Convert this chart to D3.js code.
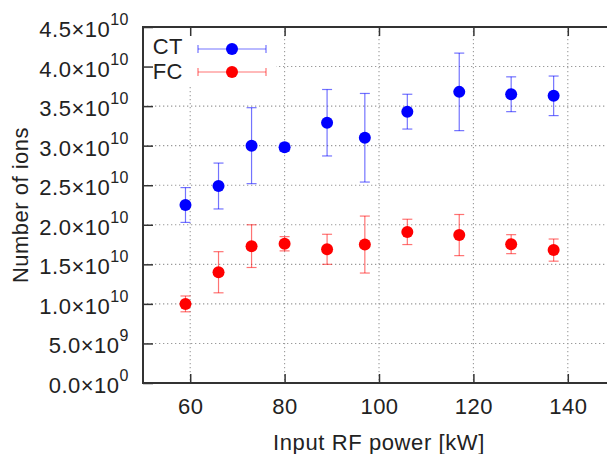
<!DOCTYPE html>
<html>
<head>
<meta charset="utf-8">
<script src="https://cdn.jsdelivr.net/npm/d3@7"></script>
<style>
  body { margin: 0; background: #fff; }
  svg text { font-family: "Liberation Sans", Arial, Helvetica, sans-serif; fill: #222; }
</style>
</head>
<body>
<div id="chart"></div>
<script>
// Ion count vs. input RF power, CT and FC measurements with error bars

const power = [59, 66, 73, 80, 89, 97, 106, 117, 128, 137];

const ctValues = [2.25e10, 2.49e10, 3.00e10, 2.98e10, 3.29e10, 3.10e10, 3.43e10, 3.68e10, 3.65e10, 3.63e10];
const ctErrors = [0.22e10, 0.29e10, 0.48e10, 0.05e10, 0.42e10, 0.56e10, 0.22e10, 0.49e10, 0.22e10, 0.25e10];

const fcValues = [1.00e10, 1.40e10, 1.73e10, 1.76e10, 1.69e10, 1.75e10, 1.91e10, 1.87e10, 1.755e10, 1.68e10];
const fcErrors = [0.10e10, 0.26e10, 0.27e10, 0.09e10, 0.19e10, 0.36e10, 0.16e10, 0.26e10, 0.12e10, 0.14e10];

const xTicks = [60, 80, 100, 120, 140];
const yTicks = [0, 0.5e10, 1.0e10, 1.5e10, 2.0e10, 2.5e10, 3.0e10, 3.5e10, 4.0e10, 4.5e10];
// mantissa / exponent pairs for the "a×10^b" labels
const yTickLabels = [
    ['0.0', '0'], ['5.0', '9'], ['1.0', '10'], ['1.5', '10'], ['2.0', '10'],
    ['2.5', '10'], ['3.0', '10'], ['3.5', '10'], ['4.0', '10'], ['4.5', '10']
];

const series = [
    { name: 'CT', color: '#0000ff', values: ctValues, errors: ctErrors },
    { name: 'FC', color: '#ff0000', values: fcValues, errors: fcErrors }
];

const width = 607, height = 454;
const plot = { left: 143, top: 27, right: 615, bottom: 383 };

const svg = d3.select('#chart').append('svg')
    .attr('width', width)
    .attr('height', height);

const x = d3.scaleLinear().domain([50, 150]).range([plot.left, plot.right]);
const y = d3.scaleLinear().domain([0, 4.5e10]).range([plot.bottom, plot.top]);

// dotted grid
const grid = svg.append('g').attr('class', 'grid');
grid.selectAll('line.vgrid')
    .data(xTicks)
    .join('line')
    .attr('class', 'vgrid')
    .attr('x1', d => x(d)).attr('x2', d => x(d))
    .attr('y1', plot.top).attr('y2', plot.bottom);
grid.selectAll('line.hgrid')
    .data(yTicks.slice(1, -1))
    .join('line')
    .attr('class', 'hgrid')
    .attr('x1', plot.left).attr('x2', plot.right)
    .attr('y1', d => y(d)).attr('y2', d => y(d));
grid.selectAll('line')
    .attr('stroke', '#9a9a9a')
    .attr('stroke-width', 1.1)
    .attr('stroke-dasharray', '1.3,2.7');

// opaque key box hides the grid behind it
svg.append('rect')
    .attr('x', plot.left).attr('y', plot.top)
    .attr('width', 133).attr('height', 58)
    .attr('fill', '#fff');

// axes: inward ticks, no domain path (border drawn separately)
const bottomAxis = svg.append('g')
    .attr('transform', `translate(0,${plot.bottom})`)
    .call(d3.axisBottom(x).tickValues(xTicks).tickSizeInner(-9).tickSizeOuter(0).tickPadding(15));
bottomAxis.selectAll('text')
    .attr('dy', '0.71em')
    .style('font-size', '22px')
    .style('letter-spacing', '0.5px');

const topAxis = svg.append('g')
    .attr('transform', `translate(0,${plot.top})`)
    .call(d3.axisTop(x).tickValues(xTicks).tickSizeInner(-9).tickSizeOuter(0).tickFormat(''));

const leftAxis = svg.append('g')
    .attr('transform', `translate(${plot.left},0)`)
    .call(d3.axisLeft(y).tickValues(yTicks).tickSizeInner(-10).tickSizeOuter(0).tickFormat(''));

[bottomAxis, topAxis, leftAxis].forEach(g => {
    g.select('.domain').remove();
    g.selectAll('.tick line').attr('stroke', '#333').attr('stroke-width', 1.5);
});

// y labels with superscript exponent
svg.append('g').selectAll('text')
    .data(yTicks)
    .join('text')
    .attr('x', 129)
    .attr('y', d => y(d) + 10)
    .attr('text-anchor', 'end')
    .style('font-size', '22px')
    .style('letter-spacing', '0.5px')
    .each(function(d, i) {
        const t = d3.select(this);
        t.append('tspan').text(yTickLabels[i][0] + '\u00d710');
        t.append('tspan')
            .attr('dy', -12)
            .style('font-size', '16px')
            .text(yTickLabels[i][1]);
    });

// plot border
svg.append('rect')
    .attr('x', plot.left).attr('y', plot.top)
    .attr('width', plot.right - plot.left)
    .attr('height', plot.bottom - plot.top)
    .attr('fill', 'none')
    .attr('stroke', '#333')
    .attr('stroke-width', 2);

// axis titles
svg.append('text')
    .attr('x', (plot.left + plot.right) / 2)
    .attr('y', 450)
    .attr('text-anchor', 'middle')
    .style('font-size', '22px')
    .style('letter-spacing', '0.6px')
    .text('Input RF power [kW]');

svg.append('text')
    .attr('transform', `translate(28,${(plot.top + plot.bottom) / 2}) rotate(-90)`)
    .attr('text-anchor', 'middle')
    .style('font-size', '22px')
    .style('letter-spacing', '0.5px')
    .text('Number of ions');

// key
const keyRows = [54, 79];
const keyLineY = [49, 72];
series.forEach((s, k) => {
    const g = svg.append('g').attr('class', 'key');
    g.append('text')
        .attr('x', 183).attr('y', keyRows[k])
        .attr('text-anchor', 'end')
        .style('font-size', '22px')
        .style('letter-spacing', '0.5px')
        .text(s.name);
    const ly = keyLineY[k];
    g.append('line')
        .attr('x1', 198).attr('x2', 266).attr('y1', ly).attr('y2', ly);
    g.append('line')
        .attr('x1', 198).attr('x2', 198).attr('y1', ly - 4).attr('y2', ly + 4);
    g.append('line')
        .attr('x1', 266).attr('x2', 266).attr('y1', ly - 4).attr('y2', ly + 4);
    g.selectAll('line')
        .attr('stroke', s.color)
        .attr('stroke-opacity', 0.55)
        .attr('stroke-width', 1.2);
    g.append('circle')
        .attr('cx', 232).attr('cy', ly).attr('r', 6)
        .attr('fill', s.color);
});

// error bars + points
series.forEach(s => {
    const rows = power.map((p, i) => ({ p, v: s.values[i], e: s.errors[i] }));
    const g = svg.append('g').attr('class', 'series-' + s.name);

    const bars = g.selectAll('g.err')
        .data(rows)
        .join('g')
        .attr('class', 'err')
        .attr('stroke', s.color)
        .attr('stroke-opacity', 0.55)
        .attr('stroke-width', 1.2);
    bars.append('line')
        .attr('x1', d => x(d.p)).attr('x2', d => x(d.p))
        .attr('y1', d => y(d.v - d.e)).attr('y2', d => y(d.v + d.e));
    bars.append('line')
        .attr('x1', d => x(d.p) - 5).attr('x2', d => x(d.p) + 5)
        .attr('y1', d => y(d.v + d.e)).attr('y2', d => y(d.v + d.e));
    bars.append('line')
        .attr('x1', d => x(d.p) - 5).attr('x2', d => x(d.p) + 5)
        .attr('y1', d => y(d.v - d.e)).attr('y2', d => y(d.v - d.e));

    g.selectAll('circle')
        .data(rows)
        .join('circle')
        .attr('cx', d => x(d.p))
        .attr('cy', d => y(d.v))
        .attr('r', 6)
        .attr('fill', s.color);
});
</script>
</body>
</html>
